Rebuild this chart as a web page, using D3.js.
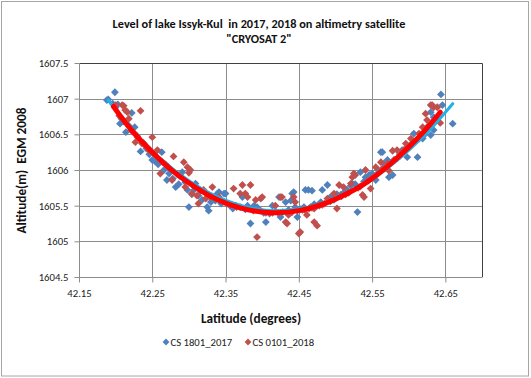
<!DOCTYPE html>
<html><head><meta charset="utf-8">
<script src="https://cdn.jsdelivr.net/npm/d3@7"></script>
<style>body{margin:0;background:#fff}svg{display:block}text{font-family:Carlito,Calibri,"Liberation Sans",Arial,sans-serif;white-space:pre}</style>
</head><body><svg id="c" width="531" height="378"></svg>
<script>
const titleLines = ["Level of lake Issyk-Kul  in 2017, 2018 on altimetry satellite", "\"CRYOSAT 2\""];
const xTitle = "Latitude (degrees)";
const yTitle = "Altitude(m)  EGM 2008";
const seriesNames = ["CS 1801_2017", "CS 0101_2018"];
const xTicks = [42.15, 42.25, 42.35, 42.45, 42.55, 42.65];
const yTicks = [1604.5, 1605, 1605.5, 1606, 1606.5, 1607, 1607.5];
const xDomain = [42.15, 42.70];
const yDomain = [1604.5, 1607.5];

const cs2017 = [[42.188,1606.98],[42.190,1606.99],[42.199,1607.09],[42.203,1606.92],[42.206,1606.65],[42.214,1606.53],[42.222,1606.80],[42.226,1606.60],[42.234,1606.26],[42.250,1606.14],[42.263,1606.25],[42.270,1605.86],[42.282,1605.76],[42.291,1605.97],[42.300,1605.48],[42.307,1605.72],[42.295,1605.83],[42.309,1605.81],[42.325,1605.48],[42.327,1605.43],[42.336,1605.57],[42.339,1605.67],[42.341,1605.69],[42.348,1605.67],[42.350,1605.67],[42.364,1605.50],[42.370,1605.48],[42.373,1605.62],[42.384,1605.25],[42.389,1605.50],[42.393,1605.48],[42.405,1605.27],[42.414,1605.50],[42.423,1605.62],[42.425,1605.34],[42.432,1605.55],[42.441,1605.67],[42.443,1605.69],[42.445,1605.48],[42.448,1605.34],[42.439,1605.57],[42.457,1605.48],[42.459,1605.72],[42.463,1605.72],[42.468,1605.71],[42.482,1605.72],[42.489,1605.79],[42.493,1605.62],[42.507,1605.65],[42.523,1605.81],[42.530,1605.41],[42.534,1605.97],[42.546,1605.93],[42.555,1605.86],[42.562,1606.25],[42.566,1606.09],[42.564,1606.25],[42.571,1606.14],[42.578,1605.93],[42.573,1605.90],[42.580,1606.14],[42.591,1606.28],[42.598,1606.18],[42.612,1606.18],[42.607,1606.51],[42.619,1606.44],[42.625,1606.60],[42.630,1606.49],[42.634,1606.56],[42.630,1606.81],[42.634,1606.74],[42.644,1607.06],[42.646,1606.91],[42.660,1606.65],
[42.196,1606.93],[42.200,1606.88],[42.208,1606.72],[42.211,1606.68],[42.218,1606.62],[42.229,1606.48],[42.238,1606.38],[42.242,1606.30],[42.246,1606.22],[42.254,1606.12],[42.258,1606.08],[42.266,1606.00],[42.273,1605.95],[42.278,1605.88],[42.286,1605.80],[42.298,1605.72],[42.304,1605.66],[42.313,1605.64],[42.318,1605.58],[42.330,1605.55],[42.344,1605.53],[42.356,1605.50],[42.360,1605.46],[42.377,1605.45],[42.380,1605.50],[42.398,1605.43],[42.402,1605.40],[42.410,1605.39],[42.418,1605.42],[42.428,1605.41],[42.436,1605.44],[42.452,1605.45],[42.466,1605.48],[42.471,1605.52],[42.475,1605.50],[42.480,1605.55],[42.498,1605.58],[42.502,1605.66],[42.511,1605.68],[42.516,1605.72],[42.521,1605.78],[42.527,1605.80],[42.539,1605.84],[42.541,1605.90],[42.550,1605.95],[42.558,1606.00],[42.584,1606.16],[42.588,1606.22],[42.596,1606.30],[42.603,1606.36],[42.614,1606.44],[42.622,1606.50],[42.628,1606.62],[42.638,1606.72]];

const cs2018 = [[42.200,1606.91],[42.209,1606.91],[42.211,1606.90],[42.213,1606.84],[42.216,1606.81],[42.218,1606.72],[42.234,1606.83],[42.227,1606.39],[42.236,1606.37],[42.243,1606.32],[42.245,1606.28],[42.257,1606.28],[42.250,1606.46],[42.279,1606.19],[42.261,1605.95],[42.277,1605.86],[42.293,1606.11],[42.295,1605.76],[42.304,1605.67],[42.300,1605.96],[42.298,1606.04],[42.302,1606.00],[42.311,1605.64],[42.320,1605.72],[42.329,1605.62],[42.343,1605.58],[42.313,1605.53],[42.323,1605.60],[42.332,1605.76],[42.341,1605.62],[42.361,1605.74],[42.370,1605.67],[42.373,1605.79],[42.384,1605.79],[42.377,1605.67],[42.380,1605.62],[42.391,1605.58],[42.398,1605.60],[42.400,1605.62],[42.393,1605.06],[42.418,1605.50],[42.425,1605.62],[42.427,1605.62],[42.432,1605.27],[42.434,1605.25],[42.436,1605.37],[42.443,1605.62],[42.445,1605.55],[42.450,1605.11],[42.452,1605.13],[42.461,1605.37],[42.471,1605.27],[42.471,1605.46],[42.475,1605.22],[42.489,1605.60],[42.498,1605.67],[42.502,1605.46],[42.505,1605.79],[42.511,1605.76],[42.521,1605.81],[42.523,1605.90],[42.525,1605.95],[42.527,1605.93],[42.537,1605.65],[42.539,1605.62],[42.541,1606.00],[42.548,1605.74],[42.555,1606.04],[42.562,1606.11],[42.564,1606.02],[42.571,1606.09],[42.573,1605.99],[42.578,1606.27],[42.580,1606.14],[42.584,1606.28],[42.593,1606.28],[42.596,1606.37],[42.603,1606.44],[42.614,1606.51],[42.619,1606.60],[42.623,1606.79],[42.625,1606.70],[42.630,1606.91],[42.634,1606.88],[42.632,1606.91],[42.639,1606.88],[42.643,1606.66],
[42.205,1606.76],[42.221,1606.56],[42.224,1606.53],[42.230,1606.46],[42.239,1606.36],[42.248,1606.27],[42.253,1606.22],[42.264,1606.11],[42.268,1606.08],[42.272,1606.04],[42.284,1605.94],[42.288,1605.91],[42.307,1605.77],[42.316,1605.71],[42.326,1605.65],[42.336,1605.60],[42.348,1605.55],[42.352,1605.53],[42.357,1605.51],[42.365,1605.48],[42.388,1605.43],[42.405,1605.40],[42.410,1605.40],[42.414,1605.40],[42.422,1605.40],[42.438,1605.41],[42.441,1605.41],[42.448,1605.43],[42.455,1605.44],[42.458,1605.44],[42.464,1605.46],[42.468,1605.47],[42.478,1605.50],[42.482,1605.51],[42.485,1605.53],[42.493,1605.56],[42.508,1605.63],[42.514,1605.66],[42.518,1605.68],[42.531,1605.75],[42.534,1605.77],[42.545,1605.85],[42.552,1605.90],[42.558,1605.95],[42.567,1606.02],[42.588,1606.20],[42.600,1606.32],[42.607,1606.39],[42.610,1606.42],[42.617,1606.50],[42.627,1606.61]];

// polynomial trendlines at sample latitudes
const trend2017 = [[42.190,1606.98],[42.22,1606.59],[42.26,1606.17],[42.30,1605.85],[42.34,1605.62],[42.38,1605.48],[42.42,1605.43],[42.46,1605.47],[42.50,1605.60],[42.54,1605.80],[42.58,1606.10],[42.62,1606.47],[42.66,1606.93]];
const trend2018 = [[42.197,1606.89],[42.22,1606.58],[42.25,1606.25],[42.28,1605.97],[42.31,1605.75],[42.34,1605.58],[42.37,1605.47],[42.40,1605.41],[42.418,1605.40],[42.45,1605.43],[42.48,1605.51],[42.51,1605.64],[42.54,1605.81],[42.57,1606.04],[42.60,1606.32],[42.62,1606.53],[42.643,1606.81]];

const colors = {s17:"#4f81bd", s18:"#c0504d", t17:"#1db3e8", t18:"#ff0000"};
const FONT = 'Carlito,Calibri,"Liberation Sans",Arial,sans-serif';

const svg = d3.select("#c");
const m = {l:79, r:482, t:63, b:277};
const x = d3.scaleLinear().domain(xDomain).range([m.l, m.r]);
const y = d3.scaleLinear().domain(yDomain).range([m.b, m.t]);

svg.append("rect").attr("x",1.5).attr("y",1.5).attr("width",527).attr("height",374.5)
  .attr("fill","#fff").attr("stroke","#a6a6a6").attr("stroke-width",1);

// gridlines
const g = svg.append("g");
g.selectAll(".hg").data(yTicks.slice(1)).join("line")
  .attr("x1",m.l).attr("x2",m.r).attr("y1",d=>Math.round(y(d))+0.5).attr("y2",d=>Math.round(y(d))+0.5)
  .attr("stroke","#8c8c8c").attr("stroke-width",1);
g.selectAll(".vg").data(xTicks.slice(1)).join("line")
  .attr("y1",m.t).attr("y2",m.b).attr("x1",d=>Math.round(x(d))+0.5).attr("x2",d=>Math.round(x(d))+0.5)
  .attr("stroke","#8c8c8c").attr("stroke-width",1);
svg.append("path").attr("d",`M${m.l},${m.t+0.5}H${m.r+0.5}V${m.b}`).attr("fill","none").attr("stroke","#404040");

// axes
const yAxis = d3.axisLeft(y).tickValues(yTicks).tickSize(5).tickFormat(d=>d3.format("")(d));
const yg = svg.append("g").attr("transform",`translate(${m.l+0.5},0)`).call(yAxis);
const xAxis = d3.axisBottom(x).tickValues(xTicks).tickSize(5).tickFormat(d3.format(".2f"));
const xg = svg.append("g").attr("transform",`translate(0,${m.b+0.5})`).call(xAxis);
[yg,xg].forEach(a=>{
  a.select(".domain").attr("stroke","#8c8c8c").attr("d", a===yg ? `M0,${m.t}V${m.b+0.5}` : `M${m.l},0H${m.r+0.5}`);
  a.selectAll(".tick line").attr("stroke","#8c8c8c");
  a.selectAll(".tick text").attr("fill","#222").attr("font-size",10.7).style("font-family",FONT);
});
yg.selectAll(".tick text").attr("x",-11);
xg.selectAll(".tick text").attr("y",12);

// markers
const diamond = r => `M0,${-r}L${r},0L0,${r}L${-r},0Z`;
function drawSeries(data, color){
  svg.append("g").selectAll("path").data(data).join("path")
    .attr("d", diamond(3.9))
    .attr("transform", d=>`translate(${x(d[0])},${y(d[1])})`)
    .attr("fill", color);
}
drawSeries(cs2017, colors.s17);
drawSeries(cs2018, colors.s18);

// trendlines
const line = d3.line().x(d=>x(d[0])).y(d=>y(d[1])).curve(d3.curveCatmullRom);
svg.append("path").datum(trend2017).attr("fill","none").attr("stroke",colors.t17).attr("stroke-width",3).attr("stroke-linecap","round").attr("d",line);
svg.append("path").datum(trend2018).attr("fill","none").attr("stroke",colors.t18).attr("stroke-width",5).attr("stroke-linecap","round").attr("d",line);

// titles
titleLines.forEach((l,i)=>svg.append("text").attr("x",259).attr("y",27.5+i*15).attr("text-anchor","middle")
  .attr("font-weight","bold").attr("font-size",12.3).attr("fill","#111").text(l));
svg.append("text").attr("x",251).attr("y",322.5).attr("text-anchor","middle").attr("font-weight","bold").attr("font-size",13.3).attr("fill","#111").text(xTitle);
svg.append("text").attr("transform","translate(26,170.5) rotate(-90)").attr("text-anchor","middle").attr("font-weight","bold").attr("font-size",13.3).attr("fill","#111").text(yTitle);

// legend
const lg = svg.append("g");
[[166,colors.s17,seriesNames[0]],[248,colors.s18,seriesNames[1]]].forEach(([lx,c,name])=>{
  lg.append("path").attr("d",diamond(3.4)).attr("transform",`translate(${lx},342)`).attr("fill",c);
  lg.append("text").attr("x",lx+4.5).attr("y",345.8).attr("font-size",10.7).attr("fill","#222").text(name);
});
</script></body></html>
